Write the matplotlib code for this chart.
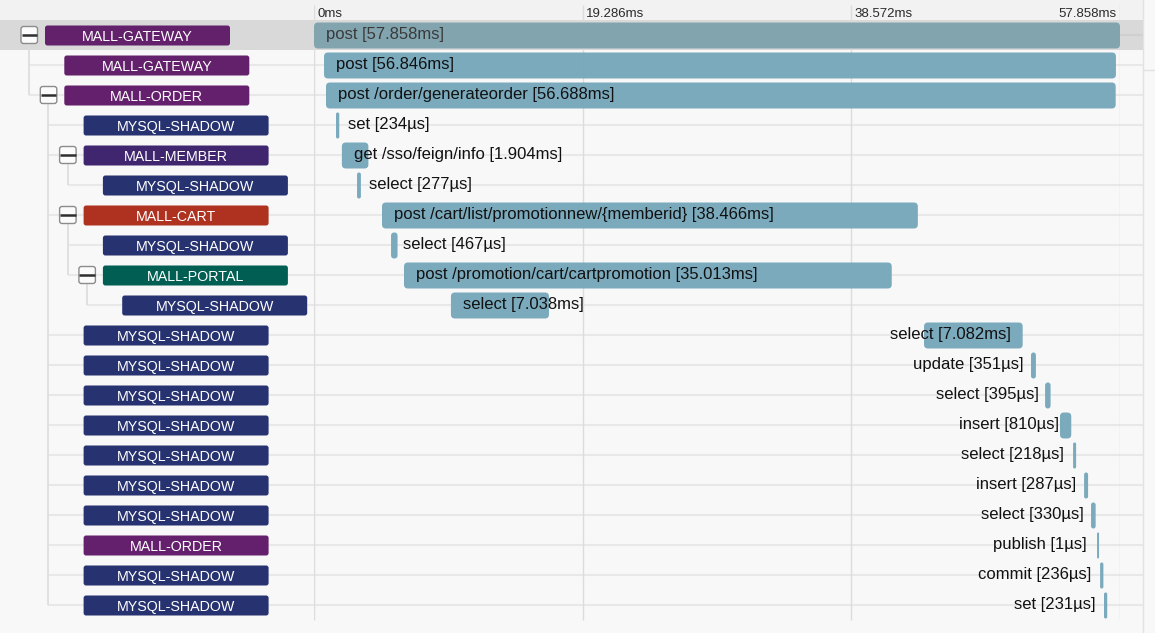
import matplotlib
matplotlib.use("Agg")
import matplotlib.pyplot as plt
from matplotlib.patches import FancyBboxPatch, Rectangle

# ---------------- data ----------------
services = ["MALL-GATEWAY", "MALL-GATEWAY", "MALL-ORDER", "MYSQL-SHADOW", "MALL-MEMBER",
            "MYSQL-SHADOW", "MALL-CART", "MYSQL-SHADOW", "MALL-PORTAL", "MYSQL-SHADOW",
            "MYSQL-SHADOW", "MYSQL-SHADOW", "MYSQL-SHADOW", "MYSQL-SHADOW", "MYSQL-SHADOW",
            "MYSQL-SHADOW", "MYSQL-SHADOW", "MALL-ORDER", "MYSQL-SHADOW", "MYSQL-SHADOW"]
parents = [-1, 0, 0, 2, 2, 4, 2, 6, 6, 8, 2, 2, 2, 2, 2, 2, 2, 2, 2, 2]
operations = ["post", "post", "post /order/generateorder", "set", "get /sso/feign/info",
              "select", "post /cart/list/promotionnew/{memberid}", "select",
              "post /promotion/cart/cartpromotion", "select", "select", "update", "select",
              "insert", "select", "insert", "select", "publish", "commit", "set"]
starts_ms = [0.0, 0.72, 0.86, 1.58, 2.0, 3.09, 4.88, 5.53, 6.46, 9.83,
             43.79, 51.47, 52.48, 53.55, 54.49, 55.28, 55.78, 56.21, 56.43, 56.71]
durations_ms = [57.858, 56.846, 56.688, 0.234, 1.904, 0.277, 38.466, 0.467, 35.013, 7.038,
                7.082, 0.351, 0.395, 0.810, 0.218, 0.287, 0.330, 0.001, 0.236, 0.231]
total_ms = 57.858
tick_values = [0.0, 19.286, 38.572, 57.858]
tick_labels = ["0ms", "19.286ms", "38.572ms", "57.858ms"]
service_colors = {"MALL-GATEWAY": "#63206b", "MALL-ORDER": "#64206c", "MYSQL-SHADOW": "#273270",
                  "MALL-MEMBER": "#40256f", "MALL-CART": "#ae321f", "MALL-PORTAL": "#005f52"}

# ---------------- layout ----------------
W, H = 1155, 633
ROW_PX = 30.0
FIRST_ROW_CENTER = 35.0
TL_LEFT, TL_RIGHT = 314, 1120
PANEL_RIGHT = 1143
FONT = ["Liberation Sans", "DejaVu Sans"]
plt.rcParams["font.family"] = FONT


def r(px):  # pixel y -> row units
    return (px - FIRST_ROW_CENTER) / ROW_PX


n = len(services)
depth = []
for i, p in enumerate(parents):
    depth.append(0 if p < 0 else depth[p] + 1)
has_children = [any(pp == i for pp in parents) for i in range(n)]


def tag_x(d):
    return 45 + 19.3 * d


def fmt(d):
    return f"{d:.3f}ms" if d >= 1 else f"{round(d * 1000)}µs"


fig = plt.figure(figsize=(W / 100, H / 100), dpi=100)
fig.patch.set_facecolor("#f8f8f8")

bg = fig.add_axes([0, 0, 1, 1])
bg.set_xlim(0, W)
bg.set_ylim(r(H), r(0))
bg.axis("off")
bg.patch.set_alpha(0)

# header band
bg.add_patch(Rectangle((0, r(0)), PANEL_RIGHT, r(20) - r(0), fc="#f2f2f2", ec="none", zorder=0))
# selected row band
bg.add_patch(Rectangle((0, -0.5), PANEL_RIGHT, 1.0, fc="#d9d9d9", ec="none", zorder=0))
# right panel separator
bg.plot([PANEL_RIGHT, PANEL_RIGHT], [r(0), r(H)], color="#e2e2e2", lw=1, zorder=1)
bg.plot([PANEL_RIGHT, W], [r(70), r(70)], color="#e2e2e2", lw=1, zorder=1)

# tree lines and row lines
for i in range(n):
    p = parents[i]
    if p < 0:
        bg.plot([TL_LEFT, PANEL_RIGHT], [i, i], color="#d0d0d0", lw=1.5, zorder=1,
                solid_capstyle="butt")
        continue
    px_ = tag_x(depth[p]) - 16
    bg.plot([px_, PANEL_RIGHT], [i, i], color="#e8e8e8", lw=1.5, zorder=1,
            solid_capstyle="butt")
for i in range(n):
    if has_children[i]:
        kids = [k for k in range(n) if parents[k] == i]
        px_ = tag_x(depth[i]) - 16
        bg.plot([px_, px_], [i + 8 / ROW_PX, max(kids)], color="#dcdcdc", lw=1.2, zorder=1,
                solid_capstyle="butt")

# buttons and tags
for i in range(n):
    x = tag_x(depth[i])
    if has_children[i]:
        bx = x - 24
        bg.add_patch(FancyBboxPatch((bx, i - 8.5 / ROW_PX), 16.5, 17 / ROW_PX,
                                    boxstyle="round,pad=0,rounding_size=2.5",
                                    mutation_aspect=1 / ROW_PX,
                                    fc="#fbfbfb", ec="#8c8c8c", lw=1.0, zorder=3))
        bg.plot([bx + 0.5, bx + 16], [i, i], color="#2e2e2e", lw=1.8, zorder=4,
                solid_capstyle="butt")
    bg.add_patch(FancyBboxPatch((x, i - 9.5 / ROW_PX), 185, 20 / ROW_PX,
                                boxstyle="round,pad=0,rounding_size=2.5",
                                mutation_aspect=1 / ROW_PX,
                                fc=service_colors[services[i]], ec="none", zorder=3))
    bg.text(x + 92.5, i + 0.5 / ROW_PX, services[i], color="white", fontsize=10.3,
            ha="center", va="center_baseline", zorder=5)

# ---------------- timeline ----------------
tl = fig.add_axes([TL_LEFT / W, 0, (TL_RIGHT - TL_LEFT) / W, 1])
tl.set_xlim(0, total_ms)
tl.set_ylim(r(H), r(0))
tl.axis("off")
tl.patch.set_alpha(0)

ms_per_px = total_ms / (TL_RIGHT - TL_LEFT)
tl.vlines(tick_values, r(5), r(620), color="#dcdcdc", lw=1, zorder=2)
for k, (v, lab) in enumerate(zip(tick_values, tick_labels)):
    last = k == len(tick_values) - 1
    tl.annotate(lab, xy=(v, r(14)), xytext=(-3 if last else 3, 0), textcoords="offset pixels",
                ha="right" if last else "left", va="center", fontsize=9.5, color="#2a2a2a")

bar_h = 26 / ROW_PX
for i in range(n):
    s = starts_ms[i]
    w = max(durations_ms[i], 2 * ms_per_px)
    rx = min(4 * ms_per_px, w / 2)
    aspect = (4 / ROW_PX) / (4 * ms_per_px)
    col = "#7fa3ae" if i == 0 else "#77a8bb"
    tl.add_patch(FancyBboxPatch((s, i - bar_h / 2 + 0.5 / ROW_PX), w, bar_h,
                                boxstyle=f"round,pad=0,rounding_size={rx}",
                                mutation_aspect=aspect, fc=col, ec="none", alpha=0.97, zorder=3))
    label = f"{operations[i]} [{fmt(durations_ms[i])}]"
    tcol = "#3a3a3a" if i == 0 else "#111111"
    if s > total_ms / 2:
        tl.annotate(label, xy=(s + w, i), xytext=(-12, 0), textcoords="offset pixels",
                    ha="right", va="center", fontsize=12, color=tcol, zorder=5)
    else:
        tl.annotate(label, xy=(s, i), xytext=(12, 0), textcoords="offset pixels",
                    ha="left", va="center", fontsize=12, color=tcol, zorder=5)

fig.savefig("out.png", dpi=100, facecolor=fig.get_facecolor())
